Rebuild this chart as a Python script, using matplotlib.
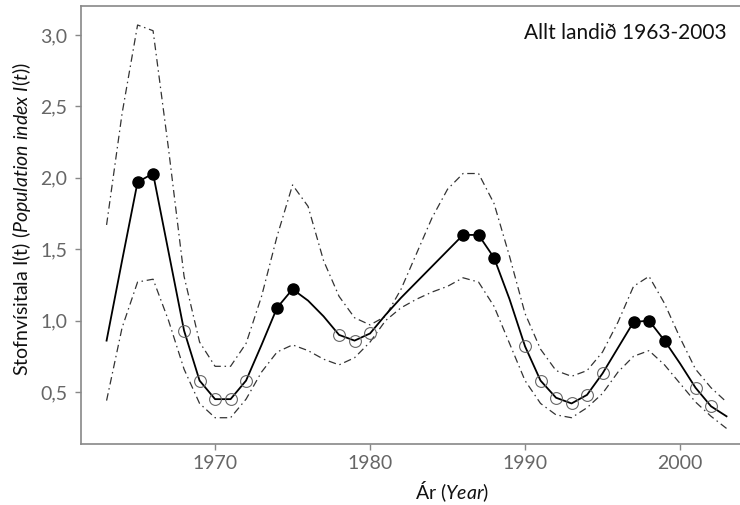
import numpy as np
import matplotlib
matplotlib.use("Agg")
import matplotlib.pyplot as plt

plt.rcParams["font.family"] = ["Lato", "DejaVu Sans"]
plt.rcParams["mathtext.fontset"] = "custom"
plt.rcParams["mathtext.rm"] = "Lato"
plt.rcParams["mathtext.it"] = "Lato:italic"

# --- data -------------------------------------------------------------
years = list(range(1963, 2004))

index = [0.86, 1.42, 1.97, 2.03, 1.48, 0.93, 0.58, 0.45, 0.45, 0.58,
         0.83, 1.09, 1.22, 1.14, 1.03, 0.90, 0.86, 0.91, 1.04, 1.16,
         1.27, 1.38, 1.49, 1.60, 1.60, 1.44, 1.15, 0.82, 0.58, 0.46,
         0.42, 0.48, 0.63, 0.81, 0.99, 1.00, 0.86, 0.70, 0.53, 0.40,
         0.33]

upper = [1.67, 2.45, 3.07, 3.03, 2.20, 1.31, 0.85, 0.68, 0.68, 0.84,
         1.17, 1.59, 1.95, 1.80, 1.42, 1.17, 1.02, 0.97, 1.03, 1.22,
         1.47, 1.72, 1.92, 2.03, 2.03, 1.82, 1.45, 1.05, 0.80, 0.65,
         0.61, 0.65, 0.78, 0.99, 1.24, 1.31, 1.12, 0.88, 0.66, 0.53,
         0.43]

lower = [0.44, 0.95, 1.27, 1.29, 1.00, 0.66, 0.42, 0.32, 0.32, 0.45,
         0.64, 0.78, 0.83, 0.79, 0.73, 0.69, 0.74, 0.85, 1.00, 1.09,
         1.15, 1.20, 1.24, 1.30, 1.27, 1.10, 0.84, 0.58, 0.42, 0.34,
         0.32, 0.39, 0.49, 0.64, 0.75, 0.79, 0.69, 0.56, 0.43, 0.33,
         0.245]

# years with counts above / below the long-term mean
high_years = [1965, 1966, 1974, 1975, 1986, 1987, 1988, 1997, 1998, 1999]
low_years = [1968, 1969, 1970, 1971, 1972, 1978, 1979, 1980, 1990,
             1991, 1992, 1993, 1994, 1995, 2001, 2002]

xticks = [1970, 1980, 1990, 2000]
yticks = [0.5, 1.0, 1.5, 2.0, 2.5, 3.0]

# --- figure -----------------------------------------------------------
W, H = 740, 505
fig = plt.figure(figsize=(W / 100, H / 100), dpi=100)
ax = fig.add_axes([81 / W, 61 / H, 659 / W, 438 / H])

dashdot = (0, (6, 3, 1.2, 3))
ax.plot(years, upper, color="#333333", lw=0.9, ls=dashdot)
ax.plot(years, lower, color="#333333", lw=0.9, ls=dashdot)
ax.plot(years, index, color="black", lw=1.3)

lookup = dict(zip(years, index))
ax.plot(low_years, [lookup[y] for y in low_years], "o", ms=8.5,
        mfc="none", mec="#666666", mew=0.8, ls="none")
ax.plot(high_years, [lookup[y] for y in high_years], "o", ms=8,
        mfc="black", mec="black", ls="none")

ax.set_xlim(1961.35, 2003.87)
ax.set_ylim(0.136, 3.203)
ax.set_xticks(xticks)
ax.set_yticks(yticks)
ax.set_yticklabels([f"{v:.1f}".replace(".", ",") for v in yticks])

for side in ["left", "bottom", "top"]:
    ax.spines[side].set_color("#888888")
    ax.spines[side].set_linewidth(1.2)
ax.spines["right"].set_visible(False)
ax.tick_params(colors="#888888", labelcolor="#666666", labelsize=14,
               length=4, width=1)
ax.tick_params(axis="y", pad=6)
ax.tick_params(axis="x", pad=4)

fig.text(727 / W, 1 - 33 / H, "Allt landið 1963-2003", fontsize=15,
         ha="right", va="center", color="#111111")

fig.text(452 / W, 1 - 492 / H, r"Ár $\mathit{(Year)}$", fontsize=14,
         ha="center", va="center", color="#111111")
fig.text(22 / W, 1 - 219 / H,
         r"Stofnvísitala I(t) $\mathit{(Population\ index\ I(t))}$",
         fontsize=14, rotation=90, ha="center", va="center",
         color="#111111")

fig.savefig("out.png", dpi=100)
